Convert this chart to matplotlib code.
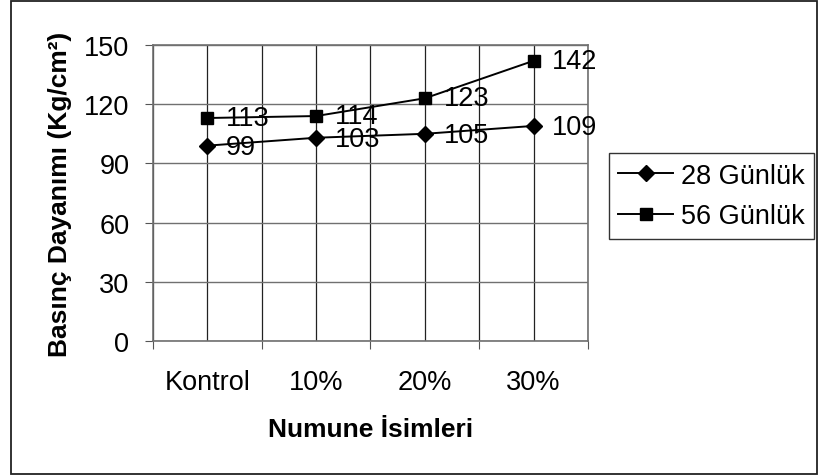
import numpy as np
import matplotlib.pyplot as plt
from matplotlib.patches import Rectangle

plt.rcParams['font.family'] = ['Liberation Sans', 'DejaVu Sans']

categories = ['Kontrol', '10%', '20%', '30%']
gunluk_28 = [99, 103, 105, 109]
gunluk_56 = [113, 114, 123, 142]
y_ticks = [0, 30, 60, 90, 120, 150]

FS = 19.5

fig = plt.figure(figsize=(8.2, 4.77), dpi=100)
W, H = 820, 477
ax = fig.add_axes([153 / W, 1 - 342 / H, (588 - 153) / W, (342 - 46) / H])

# outer chart border
fig.patches.append(Rectangle((11 / W, 2 / H), (817 - 11) / W, (475 - 2) / H,
                             transform=fig.transFigure, fill=False,
                             edgecolor='#222222', linewidth=1.3))

x = np.arange(len(categories))
ax.plot(x, gunluk_28, color='black', lw=1.4, marker='D', ms=8.5, label='28 Günlük')
ax.plot(x, gunluk_56, color='black', lw=1.4, marker='s', ms=8.5, label='56 Günlük')

for xi, v in zip(x, gunluk_28):
    ax.annotate(str(v), (xi, v), xytext=(13.5, -1), textcoords='offset points',
                va='center', ha='left', fontsize=FS)
for xi, v in zip(x, gunluk_56):
    ax.annotate(str(v), (xi, v), xytext=(13.5, 0), textcoords='offset points',
                va='center', ha='left', fontsize=FS)

ax.set_xlim(-0.5, len(categories) - 0.5)
ax.set_ylim(0, 150)
ax.set_yticks(y_ticks)
ax.set_xticks(np.arange(-0.5, len(categories), 1.0))
ax.set_xticklabels([])
ax.set_xticks(x, minor=True)
ax.set_xticklabels(categories, minor=True)
ax.tick_params(axis='x', which='major', length=6, color='#555555', direction='out')
ax.tick_params(axis='x', which='minor', length=0, pad=20, labelsize=FS)
ax.tick_params(axis='y', length=6, color='#555555', labelsize=FS, pad=11)

ax.grid(axis='y', color='#707070', lw=1.0)
ax.grid(axis='x', which='both', color='#222222', lw=0.9)
ax.set_axisbelow(True)
for s in ax.spines.values():
    s.set_color('#707070')
    s.set_linewidth(1.2)

ax.set_ylabel('Basınç Dayanımı (Kg/cm²)', fontsize=19, fontweight='bold', labelpad=9)
ax.set_xlabel('Numune İsimleri', fontsize=19, fontweight='bold', labelpad=16)

leg = ax.legend(loc='center left', bbox_to_anchor=(609 / W, 1 - 197 / H),
                bbox_transform=fig.transFigure, frameon=True, fancybox=False,
                fontsize=FS, handlelength=2.0, handletextpad=0.3,
                borderpad=0.35, labelspacing=0.55, borderaxespad=0)
leg.get_frame().set_edgecolor('black')
leg.get_frame().set_linewidth(1.0)

fig.savefig('out.png', dpi=100)
